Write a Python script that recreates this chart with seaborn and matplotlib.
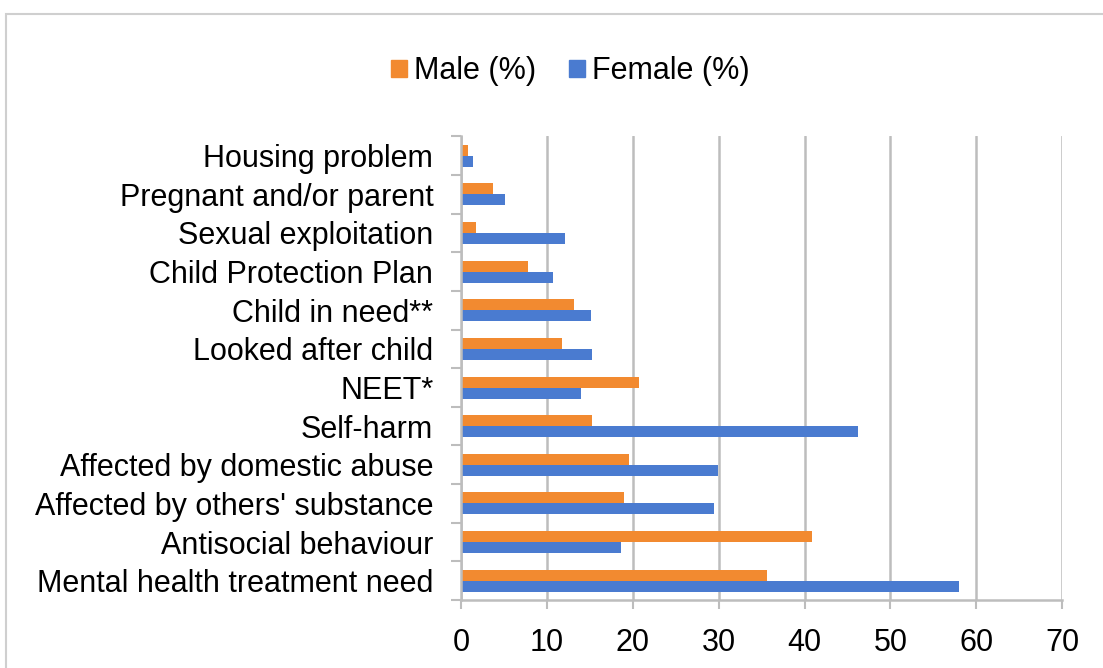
import pandas as pd
import seaborn as sns
import matplotlib.pyplot as plt
import matplotlib.patches as mpatches

categories = [
    "Housing problem",
    "Pregnant and/or parent",
    "Sexual exploitation",
    "Child Protection Plan",
    "Child in need**",
    "Looked after child",
    "NEET*",
    "Self-harm",
    "Affected by domestic abuse",
    "Affected by others' substance",
    "Antisocial behaviour",
    "Mental health treatment need",
]
male = [0.8, 3.7, 1.7, 7.8, 13.1, 11.8, 20.7, 15.3, 19.5, 19.0, 40.9, 35.6]
female = [1.4, 5.1, 12.1, 10.7, 15.1, 15.2, 14.0, 46.2, 29.9, 29.5, 18.6, 58.0]
series = ["Male (%)", "Female (%)"]
colors = ["#F28A30", "#4A7BD0"]
xticks = [0, 10, 20, 30, 40, 50, 60, 70]

df = pd.DataFrame({
    "category": categories * 2,
    "value": male + female,
    "series": [series[0]] * len(categories) + [series[1]] * len(categories),
})

sns.set_style("white")
plt.rcParams['font.family'] = ['Liberation Sans', 'DejaVu Sans']

fig = plt.figure(figsize=(11.03, 6.68), dpi=100)
ax = fig.add_axes([0.418, 0.1018, 0.545, 0.694])

sns.barplot(
    data=df, y="category", x="value", hue="series",
    order=categories, hue_order=series, palette=colors,
    width=0.57, orient="h", ax=ax, legend=False,
    edgecolor="none", saturation=1,
)

ax.set_xlim(0, 70)
ax.set_xticks(xticks)
ax.set_xlabel("")
ax.set_ylabel("")
ax.set_axisbelow(True)
ax.xaxis.grid(True, color="#bdbdbd", linewidth=1.8)
for s in ["top", "right"]:
    ax.spines[s].set_visible(False)
for s in ["left", "bottom"]:
    ax.spines[s].set_color("#bdbdbd")
    ax.spines[s].set_linewidth(1.8)

# category boundary ticks on the left, like the original
ax.set_yticks([i - 0.5 for i in range(len(categories) + 1)], minor=True)
ax.tick_params(axis="y", which="minor", length=7, color="#bdbdbd", width=1.5, left=True)
ax.tick_params(axis="y", which="major", length=0, labelsize=22, pad=20, labelcolor="black")
ax.tick_params(axis="x", length=6.5, color="#bdbdbd", width=1.5, labelsize=22, pad=14,
               bottom=True, labelcolor="black")

handles = [mpatches.Patch(color=c, label=l) for c, l in zip(colors, series)]
fig.legend(handles=handles, loc="center", bbox_to_anchor=(0.517, 0.893), ncol=2,
           frameon=False, fontsize=22, handlelength=0.5, handleheight=0.5,
           handletextpad=0.23, columnspacing=1.1, labelcolor="black")

frame = mpatches.Rectangle((0.0055, -0.1), 1.2, 0.979 + 0.1, transform=fig.transFigure,
                           fill=False, edgecolor="#cfcfcf", linewidth=1.5)
fig.patches.append(frame)

fig.savefig("out.png", dpi=100)
